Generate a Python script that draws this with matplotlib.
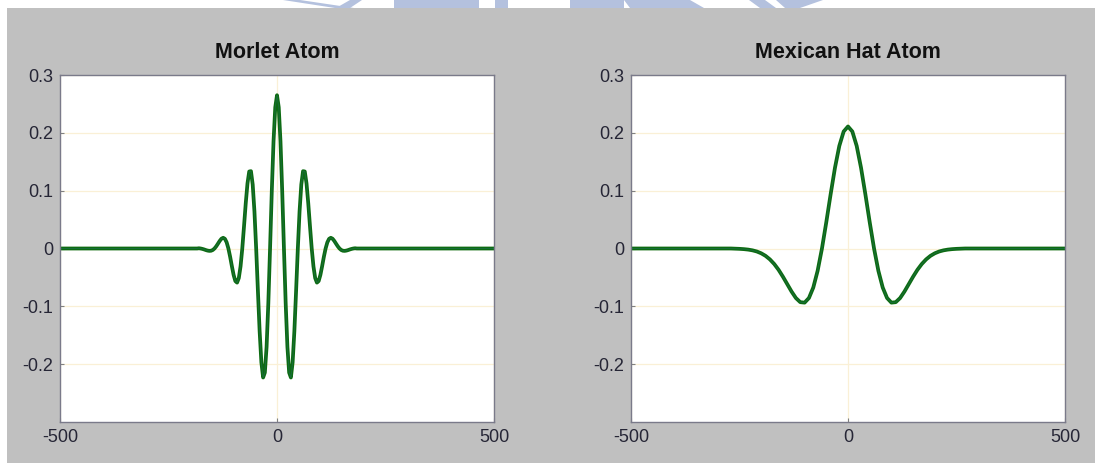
import numpy as np
import matplotlib
matplotlib.use('Agg')
import matplotlib.pyplot as plt
from matplotlib.patches import Rectangle, Polygon

plt.rcParams['font.family'] = ['Liberation Sans', 'DejaVu Sans']

# Morlet atom: flat ends, then samples every 4 units between -200 and 200
morlet_x = np.concatenate([[-500], np.arange(-200, 204, 4), [500]])
morlet_y = [0.0,
    0.0, 0.0, 0.0, 0.0, 0.0, 0.0004, 0.0, -0.0007, -0.0016, -0.0027,
    -0.0036, -0.0041, -0.0039, -0.0026, 0.0, 0.0038, 0.0084, 0.0131, 0.0169, 0.0185,
    0.0167, 0.0106, 0.0, -0.0143, -0.0305, -0.0456, -0.0563, -0.0590, -0.0511, -0.0310,
    0.0, 0.0384, 0.0784, 0.1126, 0.1332, 0.1337, 0.1107, 0.0644, 0.0, -0.0732,
    -0.1432, -0.1970, -0.2231, -0.2146, -0.1701, -0.0948, 0.0, 0.0990, 0.1854, 0.2442,
    0.2650,
    0.2442, 0.1854, 0.0990, 0.0, -0.0948, -0.1701, -0.2146, -0.2231, -0.1970, -0.1432,
    -0.0732, 0.0, 0.0644, 0.1107, 0.1337, 0.1332, 0.1126, 0.0784, 0.0384, 0.0,
    -0.0310, -0.0511, -0.0590, -0.0563, -0.0456, -0.0305, -0.0143, 0.0, 0.0106, 0.0167,
    0.0185, 0.0169, 0.0131, 0.0084, 0.0038, 0.0, -0.0026, -0.0039, -0.0041, -0.0036,
    -0.0027, -0.0016, -0.0007, 0.0, 0.0004, 0.0, 0.0, 0.0, 0.0, 0.0,
    0.0]

# Mexican hat atom: flat ends, then samples every 10 units between -300 and 300
hat_x = np.concatenate([[-500], np.arange(-300, 310, 10), [500]])
hat_y = [0.0,
    0.0, 0.0, 0.0, 0.0, -0.0003, -0.0006, -0.0011, -0.0019, -0.0032, -0.0052,
    -0.0083, -0.0127, -0.0188, -0.0268, -0.0368, -0.0487, -0.0616, -0.0745, -0.0857, -0.0928,
    -0.0936, -0.0856, -0.0675, -0.0386, 0.0, 0.0456, 0.0939, 0.1397, 0.1774, 0.2023,
    0.2110,
    0.2023, 0.1774, 0.1397, 0.0939, 0.0456, 0.0, -0.0386, -0.0675, -0.0856, -0.0936,
    -0.0928, -0.0857, -0.0745, -0.0616, -0.0487, -0.0368, -0.0268, -0.0188, -0.0127, -0.0083,
    -0.0052, -0.0032, -0.0019, -0.0011, -0.0006, -0.0003, 0.0, 0.0, 0.0, 0.0,
    0.0]

titles = ['Morlet Atom', 'Mexican Hat Atom']
xticks = [-500, 0, 500]
yticks = [-0.2, -0.1, 0, 0.1, 0.2, 0.3]
yticklabels = ['-0.2', '-0.1', '0', '0.1', '0.2', '0.3']

W, H = 1095, 463
fig = plt.figure(figsize=(W / 100, H / 100), dpi=100, facecolor='white')

# grey panel behind the plots
fig.patches.append(Rectangle((7 / W, 0), 1, (H - 8) / H, transform=fig.transFigure,
                             facecolor='#c0c0c0', edgecolor='none', zorder=-2))

# faint watermark pieces peeking out above the panel
wm = '#b4c1de'
for pts in [
    [(283, 0), (300, 0), (354, 8), (335, 8)],
    [(336, 8), (350, 0), (362, 0), (350, 8)],
    [(394, 0), (479, 0), (479, 8), (394, 8)],
    [(495, 0), (508, 0), (508, 8), (495, 8)],
    [(570, 0), (624, 0), (624, 8), (570, 8)],
    [(624, 0), (690, 0), (704, 8), (630, 8)],
    [(749, 0), (765, 0), (776, 8), (760, 8)],
    [(776, 0), (823, 0), (800, 8), (785, 8)],
]:
    fig.patches.append(Polygon([(x / W, 1 - y / H) for x, y in pts], closed=True,
                               transform=fig.transFigure, facecolor=wm,
                               edgecolor='none', zorder=-3))

ax_bottom = (H - 422) / H
ax_height = (422 - 75) / H
axes = [fig.add_axes([60 / W, ax_bottom, 434 / W, ax_height]),
        fig.add_axes([631 / W, ax_bottom, 434 / W, ax_height])]

for ax, title, xs, ys in zip(axes, titles, [morlet_x, hat_x], [morlet_y, hat_y]):
    ax.plot(xs, ys, color='#0d6b12', lw=2.7, solid_joinstyle='round')
    ax.plot(xs, ys, color='#1f6f55', lw=0.7, alpha=0.6)
    ax.set_xlim(-500, 500)
    ax.set_ylim(-0.3, 0.3)
    ax.set_xticks(xticks)
    ax.set_xticklabels([str(v) for v in xticks])
    ax.set_yticks(yticks)
    ax.set_yticklabels(yticklabels)
    ax.grid(True, color='#faf0d6', lw=0.9)
    ax.set_axisbelow(True)
    ax.tick_params(direction='in', length=3, width=0.8, color='#808080',
                   labelsize=13, labelcolor='#262636', pad=5)
    for s in ax.spines.values():
        s.set_color('#7a7a8a')
        s.set_linewidth(1.0)
    ax.set_title(title, fontsize=15.5, fontweight='bold', color='#111111', pad=12)

fig.savefig('out.png', dpi=100, facecolor=fig.get_facecolor())
